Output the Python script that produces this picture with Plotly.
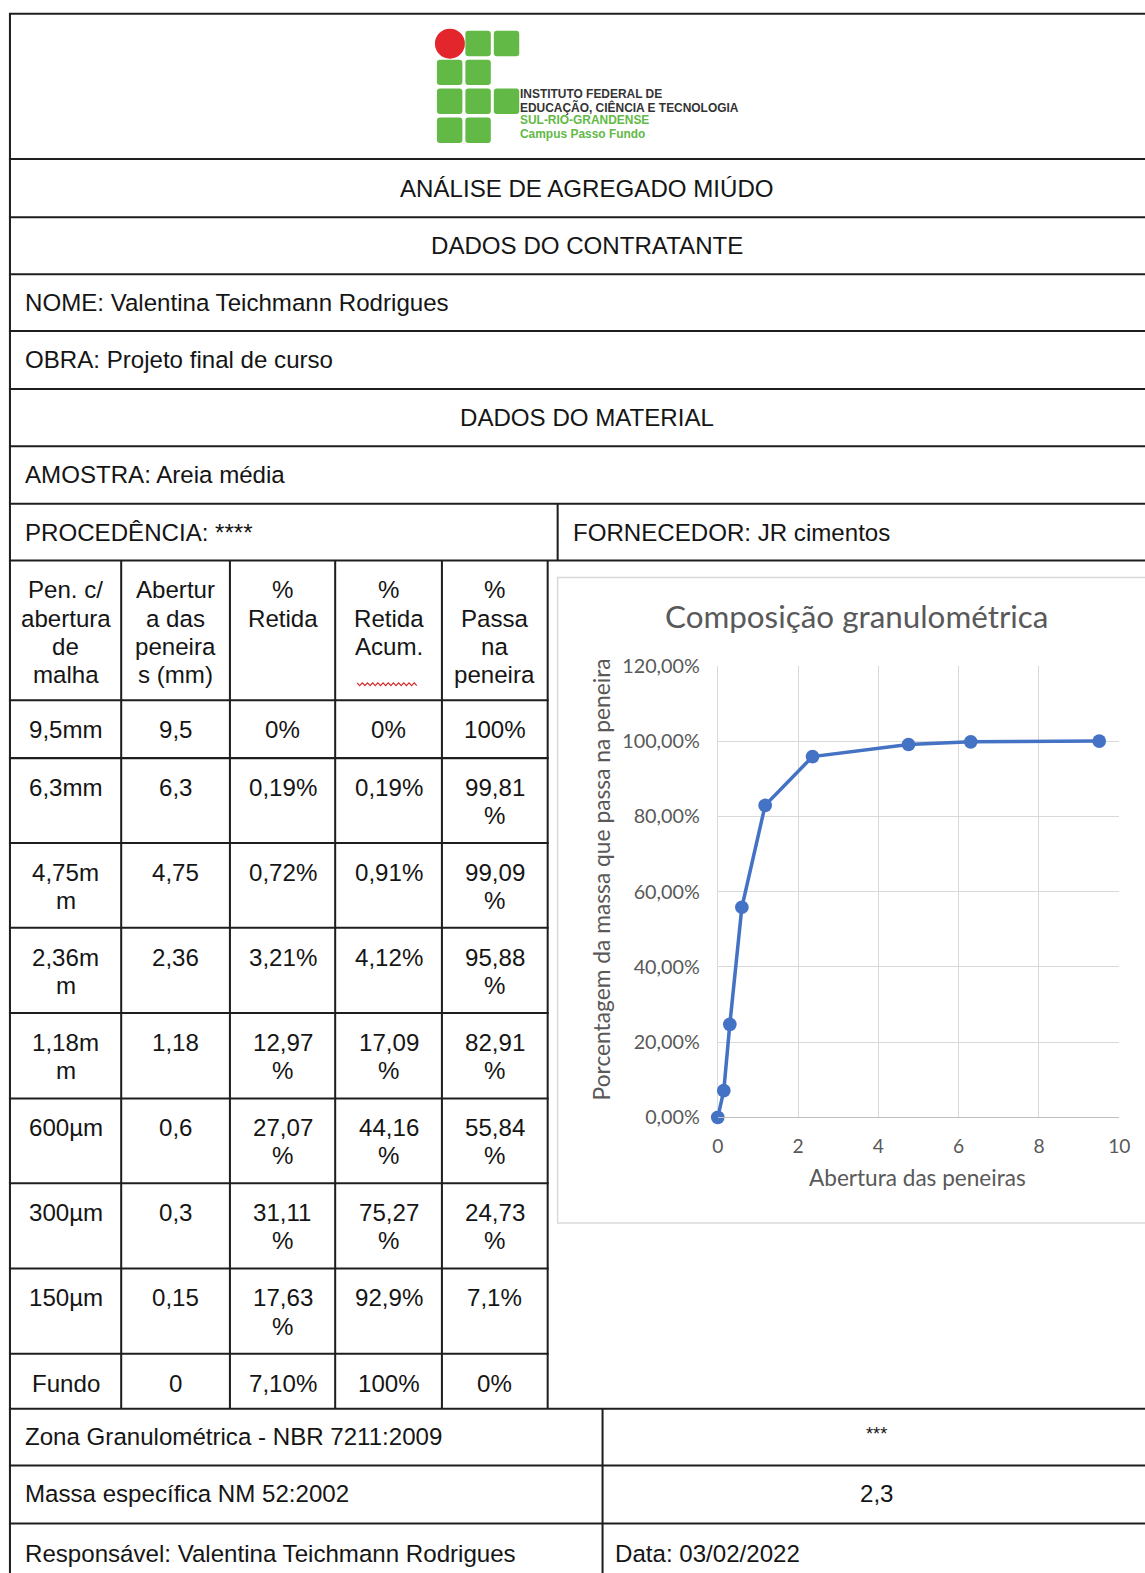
import plotly.graph_objects as go

W, H = 1145, 1573

# ---- sieve analysis (fine aggregate) ----
header_labels = [
    "Pen. c/\nabertura\nde\nmalha",
    "Abertur\na das\npeneira\ns (mm)",
    "%\nRetida",
    "%\nRetida\nAcum.",
    "%\nPassa\nna\npeneira",
]
sieve_labels = ["9,5mm", "6,3mm", "4,75m\nm", "2,36m\nm", "1,18m\nm",
                "600µm", "300µm", "150µm", "Fundo"]
aperture_labels = ["9,5", "6,3", "4,75", "2,36", "1,18", "0,6", "0,3", "0,15", "0"]
retained_labels = ["0%", "0,19%", "0,72%", "3,21%", "12,97\n%", "27,07\n%",
                   "31,11\n%", "17,63\n%", "7,10%"]
cumulative_labels = ["0%", "0,19%", "0,91%", "4,12%", "17,09\n%", "44,16\n%",
                     "75,27\n%", "92,9%", "100%"]
passing_labels = ["100%", "99,81\n%", "99,09\n%", "95,88\n%", "82,91\n%",
                  "55,84\n%", "24,73\n%", "7,1%", "0%"]

# curve values (opening in mm, % passing)
aperture_mm = [9.5, 6.3, 4.75, 2.36, 1.18, 0.6, 0.3, 0.15, 0]
passing_pct = [100, 99.81, 99.09, 95.88, 82.91, 55.84, 24.73, 7.1, 0]

# ---- sheet geometry (sheet pixels) ----
# sheet -> figure pixel mapping: small scale plus offset of the printed form
SCALE = 0.9875
OFF_X, OFF_Y = 5.1, 10.4

LEFT, RIGHT_EDGE = 9, 1175
TOP_ROWS = [12, 157.5, 216, 273, 330, 388, 445.5, 503, 560]
TABLE_ROWS = [560, 700, 758, 843, 928, 1013.5, 1099, 1184, 1269.5, 1355, 1410]
FOOT_ROWS = [1410, 1467, 1525, 1600]
COLS = [LEFT, 120.5, 229.5, 335, 442, 548]
SPLIT_PROC = 558
SPLIT_FOOT = 603
CENTER_X = 587
TEXT_X = 22

LINE = "#1e1e1e"
TXT = "#151515"
DOC_FONT = "Liberation Sans, Arial, sans-serif"
CHART_FONT = "Lato, Carlito, Calibri, sans-serif"
GREY = "#595959"
FS = 23.8

def px(x):
    return (x / SCALE - OFF_X) / W

def py(y):
    return 1 - (y / SCALE - OFF_Y) / H

def sz(v):
    return v / SCALE

shapes = []
annotations = []

def hline(x0, x1, y, color=LINE, width=2):
    shapes.append(dict(type="line", xref="paper", yref="paper",
                       x0=px(x0), x1=px(x1), y0=py(y), y1=py(y),
                       line=dict(color=color, width=sz(width))))

def vline(x, y0, y1, color=LINE, width=2):
    shapes.append(dict(type="line", xref="paper", yref="paper",
                       x0=px(x), x1=px(x), y0=py(y0), y1=py(y1),
                       line=dict(color=color, width=sz(width))))

def label(x, y, s, anchor="left", size=FS, color=TXT, family=DOC_FONT, angle=0):
    annotations.append(dict(xref="paper", yref="paper", x=px(x), y=py(y),
                            text=s, showarrow=False, xanchor=anchor,
                            yanchor="middle", textangle=angle,
                            font=dict(size=sz(size), color=color, family=family)))

# ---- frame lines ----
vline(LEFT, TOP_ROWS[0], FOOT_ROWS[-1])
for y in TOP_ROWS + FOOT_ROWS[:-1]:
    hline(LEFT - 1, RIGHT_EDGE, y)
for y in TABLE_ROWS[1:-1]:
    hline(LEFT - 1, COLS[-1] + 1, y)
vline(SPLIT_PROC, TOP_ROWS[-2], TOP_ROWS[-1])
for x in COLS[1:]:
    vline(x, TABLE_ROWS[0], TABLE_ROWS[-1])
vline(SPLIT_FOOT, FOOT_ROWS[0], FOOT_ROWS[-1])

# ---- logo ----
GREEN = "#62b946"
def rounded(x0, y0, x1, y1, r=3):
    X0, X1 = px(x0), px(x1)
    Y0, Y1 = py(y0), py(y1)
    rx, ry = sz(r) / W, sz(r) / H
    return (f"M{X0+rx},{Y0} L{X1-rx},{Y0} Q{X1},{Y0} {X1},{Y0-ry} "
            f"L{X1},{Y1+ry} Q{X1},{Y1} {X1-rx},{Y1} L{X0+rx},{Y1} "
            f"Q{X0},{Y1} {X0},{Y1+ry} L{X0},{Y0-ry} Q{X0},{Y0} {X0+rx},{Y0} Z")

logo_cells = [(1, 0), (2, 0), (0, 1), (1, 1), (0, 2), (1, 2), (2, 2), (0, 3), (1, 3)]
for c, r in logo_cells:
    x0 = 437 + c * 28.5
    y0 = 29 + r * 29
    shapes.append(dict(type="path", xref="paper", yref="paper",
                       path=rounded(x0, y0, x0 + 25.5, y0 + 25.5),
                       fillcolor=GREEN, line=dict(width=0)))
shapes.append(dict(type="circle", xref="paper", yref="paper",
                   x0=px(435), x1=px(465), y0=py(57), y1=py(27),
                   fillcolor="#e3262b", line=dict(width=0)))
logo_lines = [("INSTITUTO FEDERAL DE", "#333333"),
              ("EDUCAÇÃO, CIÊNCIA E TECNOLOGIA", "#333333"),
              ("SUL-RIO-GRANDENSE", GREEN),
              ("Campus Passo Fundo", GREEN)]
for i, (s, col) in enumerate(logo_lines):
    label(518, 92 + i * 13.5, f"<b>{s}</b>", size=11.8, color=col)

# ---- header block text ----
def mid(rows, i):
    return (rows[i] + rows[i + 1]) / 2

label(CENTER_X, mid(TOP_ROWS, 1), "ANÁLISE DE AGREGADO MIÚDO", anchor="center")
label(CENTER_X, mid(TOP_ROWS, 2), "DADOS DO CONTRATANTE", anchor="center")
label(TEXT_X, mid(TOP_ROWS, 3), "NOME: Valentina Teichmann Rodrigues")
label(TEXT_X, mid(TOP_ROWS, 4), "OBRA: Projeto final de curso")
label(CENTER_X, mid(TOP_ROWS, 5), "DADOS DO MATERIAL", anchor="center")
label(TEXT_X, mid(TOP_ROWS, 6), "AMOSTRA: Areia média")
label(TEXT_X, mid(TOP_ROWS, 7), "PROCEDÊNCIA: ****")
label(571, mid(TOP_ROWS, 7), "FORNECEDOR: JR cimentos")

# ---- sieve table ----
col_centers = [(COLS[i] + COLS[i + 1]) / 2 for i in range(5)]

def cell(ci, top, s):
    for k, part in enumerate(s.split("\n")):
        label(col_centers[ci], top + 29.5 + k * 28.2, part, anchor="center")

for ci, s in enumerate(header_labels):
    cell(ci, TABLE_ROWS[0], s)

columns = [sieve_labels, aperture_labels, retained_labels,
           cumulative_labels, passing_labels]
for ri in range(len(sieve_labels)):
    for ci, col in enumerate(columns):
        cell(ci, TABLE_ROWS[ri + 1], col[ri])

# spell-check squiggle under "Acum."
zig = []
xs = 357.0
k = 0
while xs <= 418:
    yy = 684 + (1.4 if k % 2 else -1.4)
    zig.append(f"{'M' if k == 0 else 'L'}{px(xs)},{py(yy)}")
    xs += 2.6
    k += 1
shapes.append(dict(type="path", xref="paper", yref="paper", path=" ".join(zig),
                   line=dict(color="#d42a2a", width=1.2)))

# ---- footer ----
label(TEXT_X, mid(FOOT_ROWS, 0) - 1, "Zona Granulométrica - NBR 7211:2009")
label(878, mid(FOOT_ROWS, 0) - 3, "***", anchor="center", size=18)
label(TEXT_X, mid(FOOT_ROWS, 1) - 1, "Massa específica NM 52:2002")
label(878, mid(FOOT_ROWS, 1) - 1, "2,3", anchor="center")
label(TEXT_X, 1555, "Responsável: Valentina Teichmann Rodrigues")
label(613, 1555, "Data: 03/02/2022")

# ---- chart frame and titles ----
shapes.append(dict(type="rect", xref="paper", yref="paper",
                   x0=px(558), x1=px(1175), y0=py(1224), y1=py(577),
                   line=dict(color="#d9d9d9", width=1.5), layer="below"))
label(858, 616, "Composição granulométrica", anchor="center", size=31,
      color=GREY, family=CHART_FONT)
label(919, 1178, "Abertura das peneiras", anchor="center", size=22.3,
      color=GREY, family=CHART_FONT)
label(602, 880, "Porcentagem da massa que passa na peneira", anchor="center",
      size=22.5, color=GREY, family=CHART_FONT, angle=-90)

fig = go.Figure()
fig.add_trace(go.Scatter(
    x=aperture_mm,
    y=[v / 100 for v in passing_pct],
    mode="lines+markers",
    line=dict(color="#4472c4", width=sz(3.5)),
    marker=dict(color="#4472c4", size=sz(13.5)),
    showlegend=False,
    cliponaxis=False,
))

fig.update_layout(
    width=W, height=H,
    margin=dict(l=0, r=0, t=0, b=0),
    paper_bgcolor="white", plot_bgcolor="white",
    separators=",.",
    shapes=shapes,
    annotations=annotations,
    xaxis=dict(domain=[px(718.5), px(1121)], range=[0, 10], dtick=2,
               showgrid=True, gridcolor="#d9d9d9", gridwidth=1,
               zeroline=True, zerolinecolor="#d9d9d9", zerolinewidth=1,
               showline=True, linecolor="#bfbfbf", linewidth=1,
               ticks="", ticklabelstandoff=round(sz(12)),
               tickfont=dict(family=CHART_FONT, size=sz(19), color=GREY)),
    yaxis=dict(domain=[py(1118), py(665.5)], range=[0, 1.2], dtick=0.2,
               tickformat=".2%",
               showgrid=True, gridcolor="#d9d9d9", gridwidth=1,
               zeroline=False, showline=False, ticks="",
               ticklabelstandoff=round(sz(17)),
               tickfont=dict(family=CHART_FONT, size=sz(19.5), color=GREY)),
)

fig.write_html("out.html")
